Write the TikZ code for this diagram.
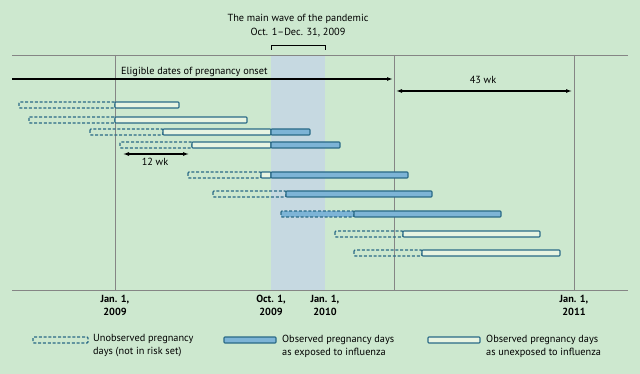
\documentclass[tikz,border=0pt]{standalone}
\usepackage{fontspec}
\setmainfont{PT Sans}
\usetikzlibrary{arrows.meta}
\definecolor{bgc}{HTML}{CDE8CF}
\definecolor{bandc}{HTML}{C6D9E1}
\definecolor{barline}{HTML}{2A6A86}
\definecolor{expc}{HTML}{7DB4D6}
\definecolor{unexc}{HTML}{E8F4E2}
\definecolor{gridc}{HTML}{858585}
\tikzset{
  unobs/.style={draw=barline, line width=1.1pt, dash pattern=on 3pt off 1.8pt, rounded corners=1pt},
  unexp/.style={draw=barline, line width=1.1pt, fill=unexc, rounded corners=0.8pt},
  expo/.style={draw=barline, line width=1.1pt, fill=expc, rounded corners=0.8pt},
  grid/.style={draw=gridc, line width=0.9pt},
  lbl/.style={font=\fontsize{10.3}{11}\selectfont, inner sep=1pt},
  axl/.style={font=\fontsize{10.3}{12.5}\selectfont\bfseries, align=center, inner sep=0pt, anchor=north},
  leg/.style={font=\fontsize{10.3}{13}\selectfont, align=left, anchor=west, inner sep=0pt},
  arr/.style={line width=1.3pt, -{Latex[length=6pt,width=4pt]}},
  darr/.style={line width=1.1pt, {Latex[length=6pt,width=4pt]}-{Latex[length=6pt,width=4pt]}}
}
\newcommand\unobsbar[3]{\draw[unobs] (#1,#3-3) rectangle (#2,#3+3);}
\newcommand\unexbar[3]{\draw[unexp] (#1,#3-3) rectangle (#2,#3+3);}
\newcommand\expbar[3]{\draw[expo] (#1,#3-3) rectangle (#2,#3+3);}
\begin{document}
\begin{tikzpicture}[x=1pt,y=-1pt]
\fill[bgc] (0,0) rectangle (640,374);
\useasboundingbox (0,0) rectangle (640,374);
% band
\fill[bandc] (271,55) rectangle (325,290);
% bracket
\draw[line width=0.7pt] (271,50) -- (271,45) -- (325,45) -- (325,50);
\node[lbl, align=center, font=\fontsize{10.3}{14}\selectfont] (title) at (298,26) {The main wave of the pandemic\\Oct. 1--Dec. 31, 2009};
% grid lines
\draw[grid] (12,55) -- (628,55);
\draw[grid] (12,290) -- (628,290);
\coordinate (v1t) at (115,55); \coordinate (v1b) at (115,290);
\coordinate (v2t) at (394,55); \coordinate (v2b) at (394,290);
\coordinate (v3t) at (574,55); \coordinate (v3b) at (574,290);
\draw[grid] (v1t) -- (v1b);
\draw[grid] (v2t) -- (v2b);
\draw[grid] (v3t) -- (v3b);
% eligible arrow
\coordinate (e1) at (12,79); \coordinate (e2) at (393,79);
\draw[arr] (e1) -- (e2);
\node[lbl, anchor=south west] (elig) at (120,78) {Eligible dates of pregnancy onset};
% 43 wk
\coordinate (w1) at (396,91); \coordinate (w2) at (572,91);
\draw[darr] (w1) -- (w2);
\node[lbl] (wk43) at (483,80) {43 wk};
% bars
\unobsbar{19}{115}{105} \unexbar{115}{179}{105}
\unobsbar{29}{115}{120} \unexbar{115}{247}{120}
\unobsbar{90}{163}{132} \unexbar{163}{271}{132} \expbar{271}{310}{132}
\unobsbar{120}{192}{145} \unexbar{192}{271}{145} \expbar{271}{340}{145}
\unobsbar{188}{261}{175} \unexbar{261}{271}{175} \expbar{271}{408}{175}
\unobsbar{213}{286}{194} \expbar{286}{432}{194}
\fill[expc] (281,211) rectangle (354,217);
\unobsbar{281}{354}{214} \expbar{354}{501}{214}
\unobsbar{335}{403}{234} \unexbar{403}{540}{234}
\unobsbar{354}{422}{253} \unexbar{422}{560}{253}
% 12 wk
\coordinate (t1) at (123,154); \coordinate (t2) at (189,154);
\draw[darr] (t1) -- (t2);
\node[lbl] (wk12) at (155,162) {12 wk};
% axis labels
\node[axl] (a1) at (115,295) {Jan. 1,\\2009};
\node[axl] (a2) at (271,295) {Oct. 1,\\2009};
\node[axl] (a3) at (325,295) {Jan. 1,\\2010};
\node[axl] (a4) at (574,295) {Jan. 1,\\2011};
% legend
\draw[unobs] (33,337) rectangle (88,343);
\node[leg] (l1) at (93,346) {Unobserved pregnancy\\days (not in risk set)};
\draw[expo] (224,337) rectangle (276,343);
\node[leg] (l2) at (282,346) {Observed pregnancy days\\as exposed to influenza};
\draw[unexp] (428,337) rectangle (480,343);
\node[leg] (l3) at (486,346) {Observed pregnancy days\\as unexposed to influenza};
\end{tikzpicture}
\end{document}
